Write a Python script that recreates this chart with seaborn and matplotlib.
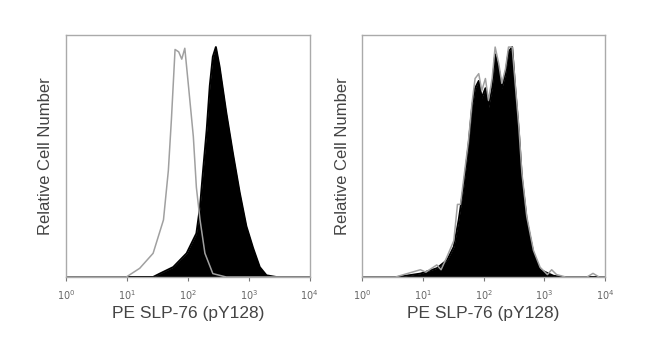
import numpy as np
import pandas as pd
import matplotlib
matplotlib.use("Agg")
import matplotlib.pyplot as plt
import seaborn as sns

# log10 PE intensity and relative cell number
left_ctrl_log = [0.0, 0.99, 1.21, 1.43, 1.60, 1.68, 1.73, 1.79, 1.85, 1.90, 1.95, 2.01, 2.09, 2.14, 2.20, 2.28, 2.41, 2.63, 4.0]
left_ctrl_cnt = [0.0, 0.0, 0.036, 0.098, 0.236, 0.44, 0.65, 0.94, 0.93, 0.90, 0.945, 0.79, 0.58, 0.37, 0.236, 0.098, 0.014, 0.0, 0.0]

left_stim_log = [0.0, 1.43, 1.54, 1.76, 1.98, 2.14, 2.20, 2.25, 2.31, 2.36, 2.41, 2.46, 2.52, 2.63, 2.74, 2.85, 2.96, 3.07, 3.18, 3.29, 3.45, 4.0]
left_stim_cnt = [0.0, 0.0, 0.014, 0.041, 0.098, 0.18, 0.29, 0.44, 0.61, 0.79, 0.91, 0.95, 0.87, 0.68, 0.51, 0.35, 0.21, 0.12, 0.041, 0.007, 0.0, 0.0]

right_stim_log = [0.0, 0.58, 0.96, 1.23, 1.40, 1.51, 1.59, 1.67, 1.75, 1.81, 1.86, 1.92, 1.97, 2.03, 2.08, 2.14, 2.19, 2.25, 2.30, 2.36, 2.41, 2.47, 2.52, 2.58, 2.63, 2.71, 2.82, 2.93, 3.15, 3.30, 4.0]
right_stim_cnt = [0.0, 0.0, 0.014, 0.036, 0.07, 0.125, 0.235, 0.37, 0.54, 0.70, 0.78, 0.81, 0.74, 0.78, 0.70, 0.78, 0.92, 0.86, 0.78, 0.84, 0.93, 0.95, 0.78, 0.60, 0.41, 0.235, 0.098, 0.03, 0.005, 0.0, 0.0]

right_ctrl_log = [0.0, 0.55, 0.96, 1.05, 1.23, 1.30, 1.40, 1.51, 1.57, 1.62, 1.67, 1.75, 1.81, 1.86, 1.92, 1.97, 2.03, 2.08, 2.14, 2.19, 2.25, 2.30, 2.36, 2.41, 2.47, 2.52, 2.58, 2.63, 2.71, 2.82, 2.93, 3.05, 3.12, 3.20, 3.35, 3.70, 3.80, 3.90, 4.0]
right_ctrl_cnt = [0.0, 0.0, 0.03, 0.02, 0.05, 0.03, 0.085, 0.15, 0.30, 0.30, 0.40, 0.56, 0.72, 0.82, 0.84, 0.77, 0.82, 0.73, 0.82, 0.95, 0.88, 0.80, 0.86, 0.95, 0.95, 0.80, 0.62, 0.43, 0.25, 0.11, 0.04, 0.01, 0.03, 0.01, 0.0, 0.0, 0.015, 0.0, 0.0]

xticks = [1, 10, 100, 1000, 10000]
xtick_labels = [r"$10^0$", r"$10^1$", r"$10^2$", r"$10^3$", r"$10^4$"]
xlabel = "PE SLP-76 (pY128)"
ylabel = "Relative Cell Number"

sns.set_style("white")
plt.rcParams["font.family"] = ["Liberation Sans", "DejaVu Sans"]

fig = plt.figure(figsize=(6.5, 3.64), dpi=100)
ax1 = fig.add_axes([0.1015, 0.239, 0.375, 0.665])
ax2 = fig.add_axes([0.557, 0.239, 0.374, 0.665])

panels = [
    (ax1, left_stim_log, left_stim_cnt, left_ctrl_log, left_ctrl_cnt),
    (ax2, right_stim_log, right_stim_cnt, right_ctrl_log, right_ctrl_cnt),
]

for ax, s_log, s_cnt, c_log, c_cnt in panels:
    stim = pd.DataFrame({"pe": 10 ** np.array(s_log), "count": s_cnt})
    ctrl = pd.DataFrame({"pe": 10 ** np.array(c_log), "count": c_cnt})

    # filled (stimulated) histogram
    ax.fill_between(stim["pe"], 0, stim["count"], color="black", lw=0)
    sns.lineplot(data=stim, x="pe", y="count", ax=ax, color="black",
                 lw=1.4, sort=False, estimator=None)
    # open (control) histogram outline
    sns.lineplot(data=ctrl, x="pe", y="count", ax=ax, color="#a0a0a0",
                 lw=1.1, sort=False, estimator=None)

    ax.set_xscale("log")
    ax.set_xlim(1, 10000)
    ax.set_ylim(0, 1.0)
    ax.set_xticks(xticks)
    ax.set_xticklabels(xtick_labels, fontsize=7, color="#666666")
    ax.minorticks_off()
    ax.set_yticks([])
    ax.tick_params(axis="x", direction="out", length=3, width=0.8,
                   color="#777777", bottom=True, pad=5)
    ax.set_xlabel(xlabel, fontsize=12.5, color="#444444", labelpad=3)
    ax.set_ylabel(ylabel, fontsize=12, color="#444444", labelpad=9)
    for sp in ax.spines.values():
        sp.set_color("#aaaaaa")
        sp.set_linewidth(1.0)

fig.savefig("out.png", dpi=100)
